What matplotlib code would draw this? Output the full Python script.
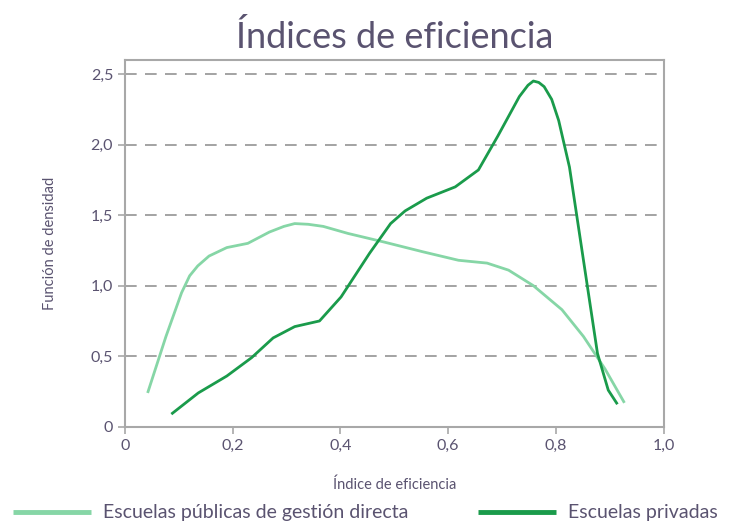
import matplotlib
matplotlib.use("Agg")
import matplotlib.pyplot as plt

# Data
pub_x = [0.042, 0.076, 0.105, 0.120, 0.135, 0.156, 0.189, 0.228, 0.268, 0.295, 0.315, 0.340, 0.368,
         0.414, 0.48, 0.553, 0.619, 0.672, 0.712, 0.758, 0.811, 0.851, 0.891, 0.927]
pub_y = [0.24, 0.64, 0.95, 1.07, 1.14, 1.21, 1.27, 1.30, 1.38, 1.42, 1.44, 1.435, 1.42,
         1.37, 1.31, 1.24, 1.18, 1.16, 1.11, 1.00, 0.83, 0.64, 0.41, 0.17]

priv_x = [0.086, 0.136, 0.189, 0.235, 0.275, 0.315, 0.361, 0.401, 0.454, 0.493,
          0.52, 0.56, 0.613, 0.656, 0.692, 0.732, 0.748, 0.758, 0.768, 0.778,
          0.792, 0.805, 0.825, 0.851, 0.877, 0.897, 0.914]
priv_y = [0.09, 0.24, 0.36, 0.49, 0.63, 0.71, 0.75, 0.92, 1.23, 1.44,
          1.53, 1.62, 1.70, 1.82, 2.06, 2.34, 2.42, 2.45, 2.44, 2.41,
          2.32, 2.17, 1.84, 1.18, 0.52, 0.26, 0.16]

x_ticks = [0, 0.2, 0.4, 0.6, 0.8, 1.0]
x_labels = ["0", "0,2", "0,4", "0,6", "0,8", "1,0"]
y_ticks = [0, 0.5, 1.0, 1.5, 2.0, 2.5]
y_labels = ["0", "0,5", "1,0", "1,5", "2,0", "2,5"]

title = "Índices de eficiencia"
xlabel = "Índice de eficiencia"
ylabel = "Función de densidad"
series_names = ["Escuelas públicas de gestión directa", "Escuelas privadas"]

TXT = "#5a5370"
LIGHT = "#86d6a6"
DARK = "#1a9b4b"
FRAME = "#a8a8a8"
FONT = ["Lato", "DejaVu Sans"]

plt.rcParams["font.family"] = FONT

fig = plt.figure(figsize=(7.31, 5.25), dpi=100)
ax = fig.add_axes([0.171, 0.187, 0.737, 0.699])

ax.plot(pub_x, pub_y, color=LIGHT, lw=2.0, label=series_names[0],
        solid_capstyle="butt", solid_joinstyle="round")
ax.plot(priv_x, priv_y, color=DARK, lw=2.0, label=series_names[1],
        solid_capstyle="butt", solid_joinstyle="round")

ax.set_xlim(0, 1.0)
ax.set_ylim(0, 2.6)
ax.set_xticks(x_ticks)
ax.set_xticklabels(x_labels)
ax.set_yticks(y_ticks)
ax.set_yticklabels(y_labels)
for yv in y_ticks[1:]:
    ax.axhline(yv, color="#949494", lw=1.2, dashes=(7, 5), zorder=0)

for s in ax.spines.values():
    s.set_color(FRAME)
    s.set_linewidth(1.5)
ax.tick_params(axis="both", colors=FRAME, labelcolor=TXT, labelsize=11.5,
               length=5, width=1.2, direction="out")

ax.set_xlabel(xlabel, color=TXT, fontsize=10.5, labelpad=18)
ax.set_ylabel(ylabel, color=TXT, fontsize=10.5, labelpad=24)

fig.text(0.54, 0.93, title, ha="center", va="center", fontsize=26,
         color=TXT, fontweight="normal",
         bbox=dict(facecolor="white", edgecolor="none", pad=3))

leg = fig.legend(loc="center", bbox_to_anchor=(0.5, 0.023), ncol=2,
                 frameon=False, fontsize=14, handlelength=4.0, handletextpad=0.6,
                 columnspacing=3.6, borderaxespad=0, borderpad=0)
for t in leg.get_texts():
    t.set_color(TXT)
for l in leg.get_lines():
    l.set_linewidth(3.5)

fig.savefig("out.png", dpi=100)
